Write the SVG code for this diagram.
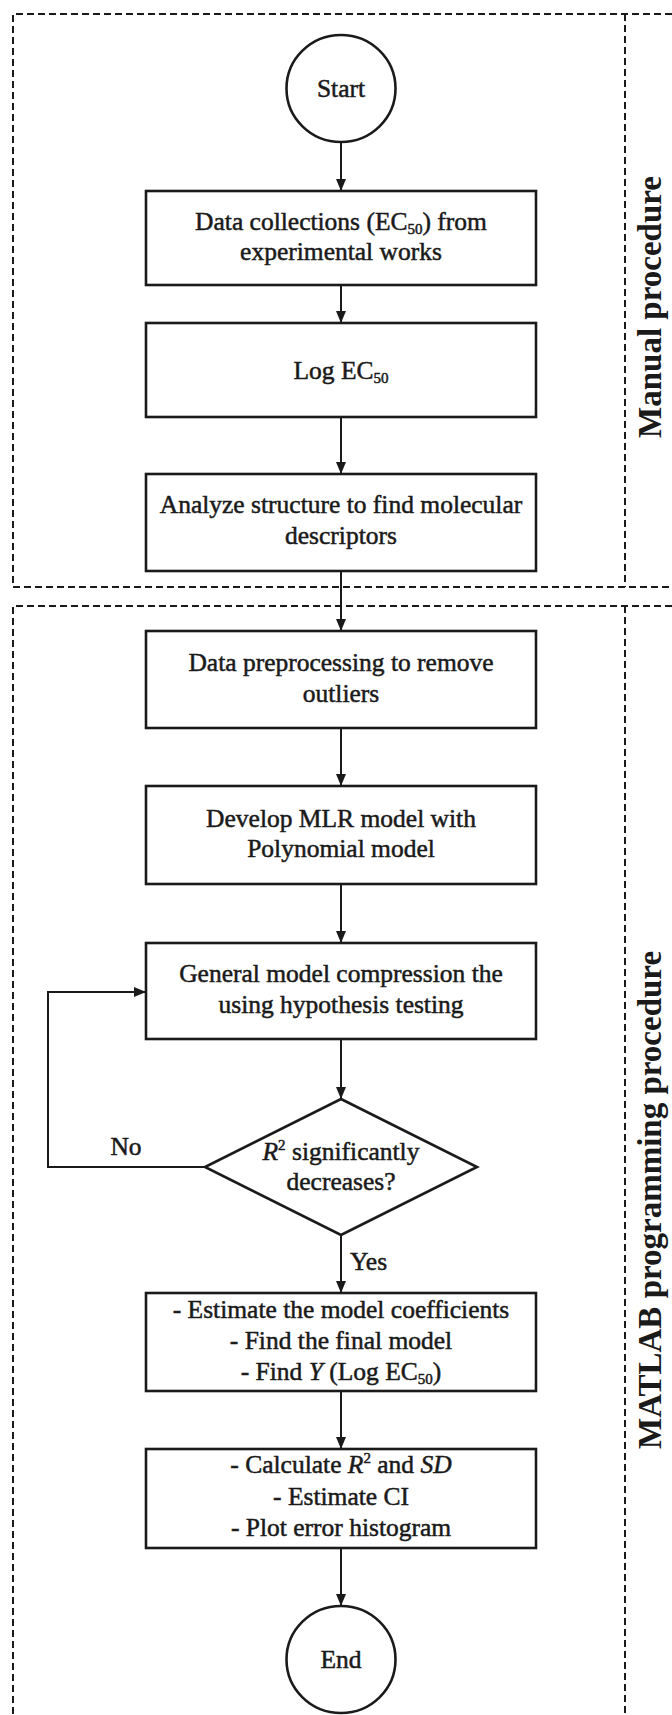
<svg xmlns="http://www.w3.org/2000/svg" width="672" height="1715" viewBox="0 0 672 1715">
<style>
.bg{fill:#fff}
.node{fill:#fff;stroke:#1a1a1a;stroke-width:2.6}
.frame{fill:none;stroke:#1a1a1a;stroke-width:2;stroke-dasharray:7 4}
.edge{fill:none;stroke:#1a1a1a;stroke-width:2}
.t{font-family:"Liberation Serif","Times New Roman",serif;font-size:25.5px;fill:#1a1a1a;stroke:#1a1a1a;stroke-width:0.5;text-anchor:middle}
.sub{font-size:15px}
.it{font-style:italic}
.lbl{font-family:"Liberation Serif","Times New Roman",serif;font-size:33px;font-weight:bold;fill:#1a1a1a;text-anchor:middle}
</style>
<defs>
<marker id="arr" viewBox="0 0 12 10" markerWidth="12" markerHeight="10" refX="12" refY="5" orient="auto" markerUnits="userSpaceOnUse">
<path d="M0,0 L12,5 L0,10 z" fill="#1a1a1a"/>
</marker>
</defs>
<rect class="bg" x="0" y="0" width="672" height="1715"/>

<g id="frames">
<path class="frame" d="M672,14 H13 V587 H672"/>
<path class="frame" d="M625,14 V587"/>
<path class="frame" d="M672,606 H13 V1715"/>
<path class="frame" d="M625,606 V1715"/>
<text class="lbl" transform="translate(661,307) rotate(-90)">Manual procedure</text>
<text class="lbl" transform="translate(661,1200) rotate(-90)">MATLAB programming procedure</text>
</g>

<g id="connectors">
<line class="edge" x1="341" y1="142" x2="341" y2="191" marker-end="url(#arr)"/>
<line class="edge" x1="341" y1="285" x2="341" y2="323" marker-end="url(#arr)"/>
<line class="edge" x1="341" y1="417" x2="341" y2="474" marker-end="url(#arr)"/>
<line class="edge" x1="341" y1="571" x2="341" y2="631" marker-end="url(#arr)"/>
<line class="edge" x1="341" y1="728" x2="341" y2="786" marker-end="url(#arr)"/>
<line class="edge" x1="341" y1="884" x2="341" y2="943" marker-end="url(#arr)"/>
<line class="edge" x1="341" y1="1039" x2="341" y2="1099" marker-end="url(#arr)"/>
<line class="edge" x1="341" y1="1235" x2="341" y2="1293" marker-end="url(#arr)"/>
<line class="edge" x1="341" y1="1391" x2="341" y2="1449" marker-end="url(#arr)"/>
<line class="edge" x1="341" y1="1548" x2="341" y2="1606" marker-end="url(#arr)"/>
<polyline class="edge" points="205,1167 48,1167 48,992 146,992" marker-end="url(#arr)"/>
<text class="t" x="126" y="1155">No</text>
<text class="t" x="350" y="1270" style="text-anchor:start">Yes</text>
</g>

<g id="start">
<ellipse class="node" cx="341" cy="88.5" rx="54.5" ry="53.5"/>
<text class="t" x="341" y="97">Start</text>
</g>

<g id="data-collections">
<rect class="node" x="146" y="191" width="390" height="94"/>
<text class="t" x="341" y="230">Data collections (EC<tspan class="sub" dy="4">50</tspan><tspan dy="-4">) from</tspan></text>
<text class="t" x="341" y="260">experimental works</text>
</g>

<g id="log-ec50">
<rect class="node" x="146" y="323" width="390" height="94"/>
<text class="t" x="341" y="379">Log EC<tspan class="sub" dy="4">50</tspan></text>
</g>

<g id="analyze">
<rect class="node" x="146" y="474" width="390" height="97"/>
<text class="t" x="341" y="513">Analyze structure to find molecular</text>
<text class="t" x="341" y="544">descriptors</text>
</g>

<g id="preprocessing">
<rect class="node" x="146" y="631" width="390" height="97"/>
<text class="t" x="341" y="671">Data preprocessing to remove</text>
<text class="t" x="341" y="702">outliers</text>
</g>

<g id="develop-mlr">
<rect class="node" x="146" y="786" width="390" height="98"/>
<text class="t" x="341" y="827">Develop MLR model with</text>
<text class="t" x="341" y="857">Polynomial model</text>
</g>

<g id="general-model">
<rect class="node" x="146" y="943" width="390" height="96"/>
<text class="t" x="341" y="982">General model compression the</text>
<text class="t" x="341" y="1013">using hypothesis testing</text>
</g>

<g id="decision">
<polygon class="node" points="341,1099 477,1167 341,1235 205,1167"/>
<text class="t" x="341" y="1160"><tspan class="it">R</tspan><tspan class="sub" dy="-10">2</tspan><tspan dy="10"> significantly</tspan></text>
<text class="t" x="341" y="1190">decreases?</text>
</g>

<g id="estimate">
<rect class="node" x="146" y="1293" width="390" height="98"/>
<text class="t" x="341" y="1318">- Estimate the model coefficients</text>
<text class="t" x="341" y="1349">- Find the final model</text>
<text class="t" x="341" y="1380">- Find <tspan class="it">Y</tspan> (Log EC<tspan class="sub" dy="4">50</tspan><tspan dy="-4">)</tspan></text>
</g>

<g id="calculate">
<rect class="node" x="146" y="1449" width="390" height="99"/>
<text class="t" x="341" y="1473">- Calculate <tspan class="it">R</tspan><tspan class="sub" dy="-10">2</tspan><tspan dy="10">  and </tspan><tspan class="it">SD</tspan></text>
<text class="t" x="341" y="1505">- Estimate CI</text>
<text class="t" x="341" y="1536">- Plot error histogram</text>
</g>

<g id="end">
<ellipse class="node" cx="341" cy="1659.5" rx="54.5" ry="53.5"/>
<text class="t" x="341" y="1668">End</text>
</g>
</svg>
